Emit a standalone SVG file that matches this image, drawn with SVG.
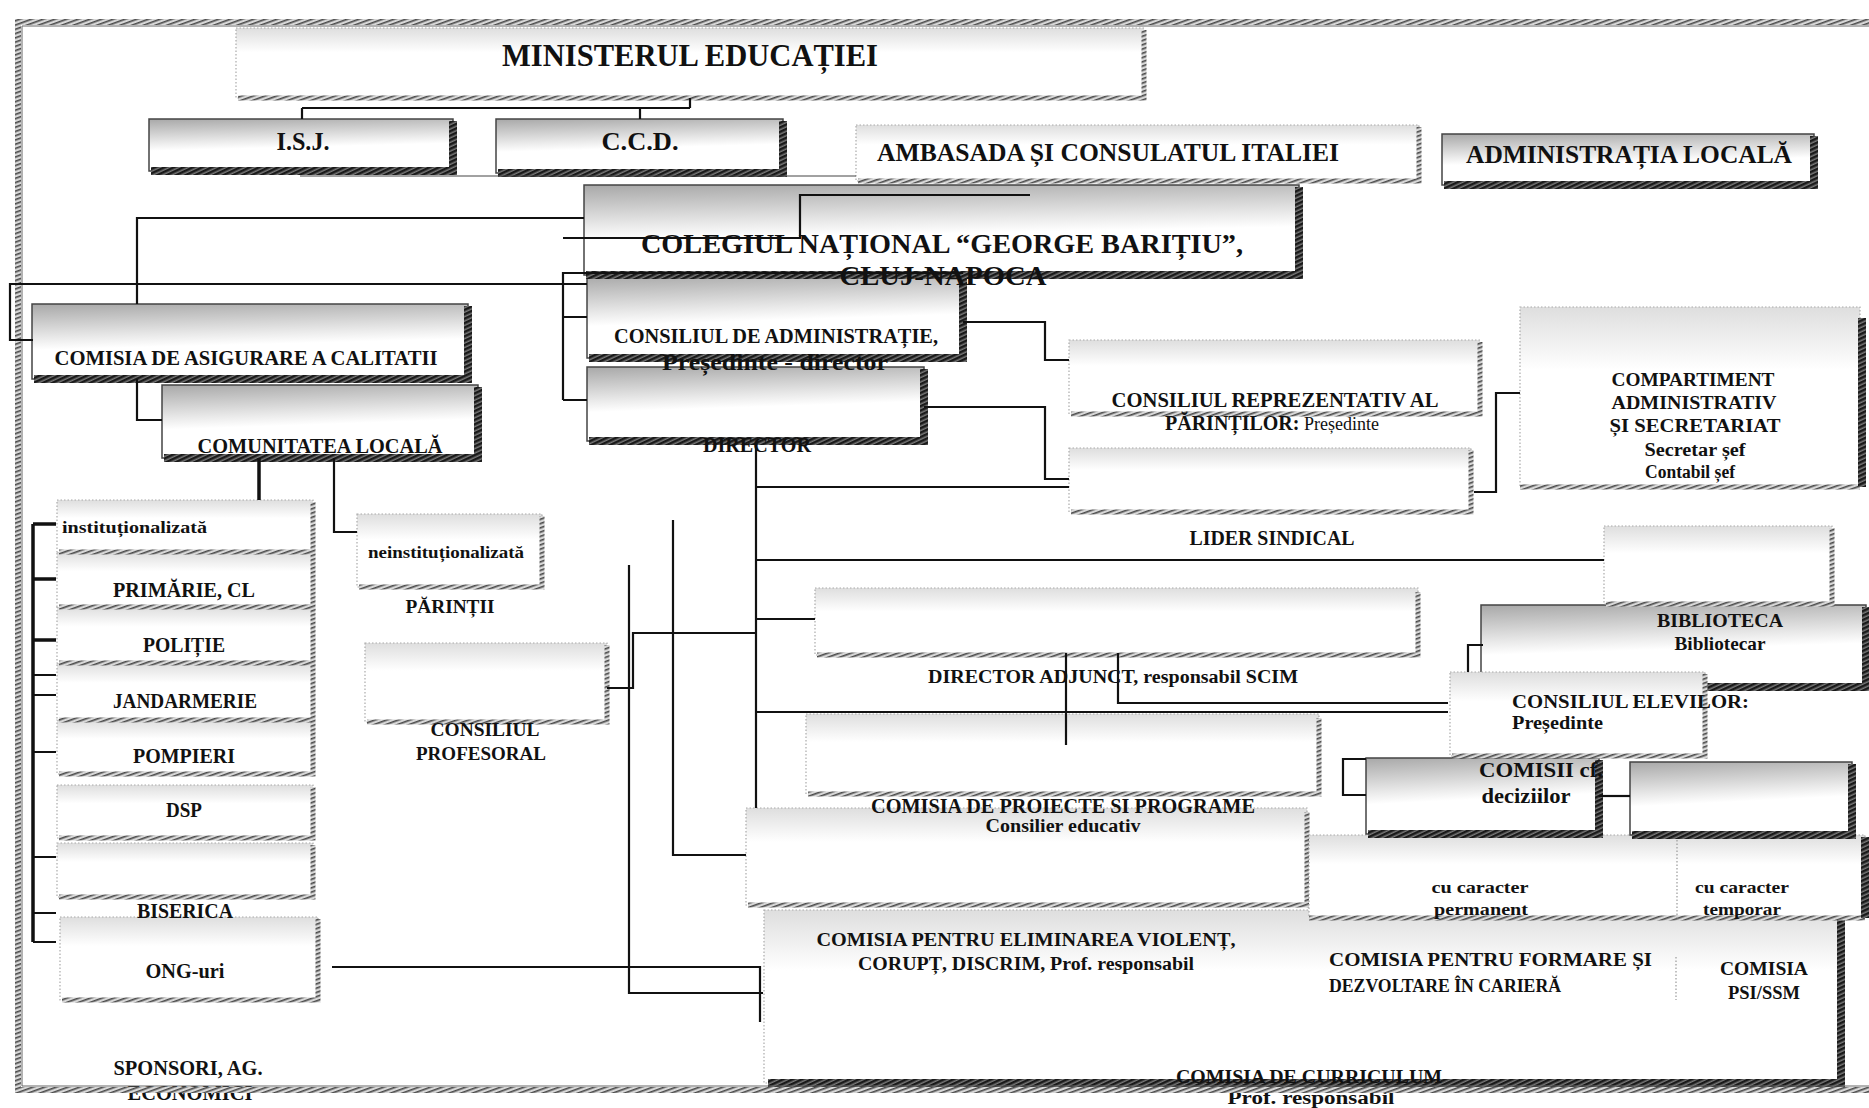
<svg xmlns="http://www.w3.org/2000/svg" width="1869" height="1108" viewBox="0 0 1869 1108">
<defs>
<pattern id="hD" width="4" height="4" patternUnits="userSpaceOnUse" patternTransform="rotate(65)"><rect width="4" height="4" fill="#7a7a7a"/><rect width="2.5" height="4" fill="#1a1a1a"/></pattern>
<pattern id="hL" width="4" height="4" patternUnits="userSpaceOnUse" patternTransform="rotate(70)"><rect width="4" height="4" fill="#d8d8d8"/><rect width="1.6" height="4" fill="#4a4a4a"/></pattern>
<linearGradient id="gD" x1="0" y1="0" x2="0.15" y2="1"><stop offset="0" stop-color="#a8a8a8"/><stop offset="0.45" stop-color="#eaeaea"/><stop offset="0.6" stop-color="#fff"/></linearGradient>
<linearGradient id="gL" x1="0" y1="0" x2="0" y2="1"><stop offset="0" stop-color="#dedede"/><stop offset="0.35" stop-color="#fff"/></linearGradient>
<style>
.dk{fill:url(#gD);stroke:#444;stroke-width:1.5}
.dsh{fill:none;stroke:url(#hD);stroke-width:8}
.lt{fill:url(#gL);stroke:#aaa;stroke-width:1.2;stroke-dasharray:1.5 2}
.lsh{fill:none;stroke:url(#hL);stroke-width:5}
.ln{fill:none;stroke:#111;stroke-width:2.2}
.lnk{fill:none;stroke:#111;stroke-width:3.5}
.thin{fill:none;stroke:#444;stroke-width:1}
.dot{fill:none;stroke:#999;stroke-width:1.2;stroke-dasharray:1.5 2}
.fr{fill:none;stroke:url(#hL);stroke-width:6}
.fr2{fill:none;stroke:#666;stroke-width:1}
text{font-family:"Liberation Serif","Times New Roman",serif;font-weight:bold;fill:#111;text-anchor:middle}
.s{text-anchor:start}
.n{font-weight:normal}
</style>
</defs>
<rect width="1869" height="1108" fill="#fff"/>

<g id="n-curriculum">
<rect class="lt" x="764" y="910" width="1077" height="173"/>
<path class="dsh" d="M1841,914 V1083 H768"/>
<path class="dot" d="M1676,957 V1000"/>
<text x="1309" y="1083" font-size="19" textLength="266" lengthAdjust="spacingAndGlyphs">COMISIA DE  CURRICULUM</text>
<text x="1311" y="1104" font-size="18" textLength="167" lengthAdjust="spacingAndGlyphs">Prof. responsabil</text>
<text x="1764" y="975" font-size="19" textLength="88" lengthAdjust="spacingAndGlyphs">COMISIA</text>
<text x="1764" y="999" font-size="19" textLength="72" lengthAdjust="spacingAndGlyphs">PSI/SSM</text>
</g>

<g id="n-ong">
<rect class="lt" x="60" y="917" width="258" height="83"/>
<path class="lsh" d="M318,919 V1000 H62"/>
<text x="185" y="978" font-size="20" textLength="79" lengthAdjust="spacingAndGlyphs">ONG-uri</text>
</g>
<g id="n-sponsori">
<text x="188" y="1075" font-size="20" textLength="149" lengthAdjust="spacingAndGlyphs">SPONSORI, AG.</text>
<text x="190" y="1100" font-size="20" textLength="125" lengthAdjust="spacingAndGlyphs">ECONOMICI</text>
</g>

<g id="n-violenta">
<rect class="lt" x="746" y="808" width="561" height="97"/>
<path class="lsh" d="M1307,812 V905 H748"/>
<text x="1026" y="946" font-size="19" textLength="419" lengthAdjust="spacingAndGlyphs">COMISIA PENTRU ELIMINAREA VIOLENȚ,</text>
<text x="1026" y="970" font-size="18" textLength="336" lengthAdjust="spacingAndGlyphs">CORUPȚ, DISCRIM, Prof. responsabil</text>
</g>

<g id="n-caracter">
<rect class="lt" x="1309" y="835" width="556" height="83"/>
<path class="lsh" d="M1309,918 H1865"/>
<path class="dsh" d="M1865,837 V918"/>
<path class="dot" d="M1677,840 V920"/>
<text x="1480" y="893" font-size="17" textLength="97" lengthAdjust="spacingAndGlyphs">cu caracter</text>
<text x="1481" y="915" font-size="17" textLength="94" lengthAdjust="spacingAndGlyphs">permanent</text>
<text x="1742" y="893" font-size="17" textLength="94" lengthAdjust="spacingAndGlyphs">cu caracter</text>
<text x="1742" y="915" font-size="17" textLength="78" lengthAdjust="spacingAndGlyphs">temporar</text>
<text class="s" x="1329" y="966" font-size="19" textLength="323" lengthAdjust="spacingAndGlyphs">COMISIA PENTRU FORMARE ȘI</text>
<text class="s" x="1329" y="992" font-size="19" textLength="232" lengthAdjust="spacingAndGlyphs">DEZVOLTARE ÎN CARIERĂ</text>
</g>

<g id="n-comisii2">
<rect class="dk" x="1630" y="762" width="222" height="73"/>
<path class="dsh" d="M1852,764 V835 H1632"/>
</g>
<g id="n-comisii">
<rect class="dk" x="1366" y="758" width="233" height="76"/>
<path class="dsh" d="M1599,760 V834 H1368"/>
<text class="s" x="1479" y="777" font-size="22" textLength="124" lengthAdjust="spacingAndGlyphs">COMISII cf.</text>
<text x="1526" y="803" font-size="20" textLength="89" lengthAdjust="spacingAndGlyphs">deciziilor</text>
</g>

<g id="n-proiecte">
<rect class="lt" x="806" y="714" width="513" height="80"/>
<path class="lsh" d="M1319,718 V794 H808"/>
<text x="1063" y="813" font-size="20" textLength="384" lengthAdjust="spacingAndGlyphs">COMISIA DE PROIECTE SI PROGRAME</text>
<text x="1063" y="832" font-size="18" textLength="155" lengthAdjust="spacingAndGlyphs">Consilier educativ</text>
</g>

<g id="n-profesoral">
<rect class="lt" x="365" y="643" width="242" height="79"/>
<path class="lsh" d="M607,645 V722 H367"/>
<text x="485" y="736" font-size="19" textLength="109" lengthAdjust="spacingAndGlyphs">CONSILIUL</text>
<text x="481" y="760" font-size="19" textLength="130" lengthAdjust="spacingAndGlyphs">PROFESORAL</text>
</g>

<g id="n-biserica">
<rect class="lt" x="57" y="843" width="256" height="54"/>
<path class="lsh" d="M313,845 V897 H59"/>
<text x="185" y="918" font-size="20" textLength="96" lengthAdjust="spacingAndGlyphs">BISERICA</text>
</g>
<g id="n-dsp">
<rect class="lt" x="57" y="785" width="256" height="53"/>
<path class="lsh" d="M313,787 V838 H59"/>
<text x="184" y="817" font-size="20" textLength="36" lengthAdjust="spacingAndGlyphs">DSP</text>
</g>
<g id="n-pompieri">
<rect class="lt" x="57" y="720" width="256" height="54"/>
<path class="lsh" d="M313,722 V774 H59"/>
<text x="184" y="763" font-size="20" textLength="102" lengthAdjust="spacingAndGlyphs">POMPIERI</text>
</g>
<g id="n-jandarmerie">
<rect class="lt" x="57" y="663" width="256" height="57"/>
<path class="lsh" d="M313,665 V720 H59"/>
<text x="185" y="708" font-size="20" textLength="144" lengthAdjust="spacingAndGlyphs">JANDARMERIE</text>
</g>
<g id="n-politie">
<rect class="lt" x="57" y="607" width="256" height="56"/>
<path class="lsh" d="M313,609 V663 H59"/>
<text x="184" y="652" font-size="20" textLength="82" lengthAdjust="spacingAndGlyphs">POLIȚIE</text>
</g>
<g id="n-primarie">
<rect class="lt" x="57" y="552" width="256" height="55"/>
<path class="lsh" d="M313,554 V607 H59"/>
<text x="184" y="597" font-size="20" textLength="142" lengthAdjust="spacingAndGlyphs">PRIMĂRIE, CL</text>
</g>
<g id="n-institutionalizata">
<rect class="lt" x="57" y="500" width="256" height="52"/>
<path class="lsh" d="M313,502 V552 H59"/>
<text class="s" x="62" y="533" font-size="17" textLength="145" lengthAdjust="spacingAndGlyphs">instituționalizată</text>
</g>

<g id="n-adjunct">
<rect class="lt" x="815" y="588" width="603" height="67"/>
<path class="lsh" d="M1418,592 V655 H817"/>
<text x="1113" y="683" font-size="18" textLength="370" lengthAdjust="spacingAndGlyphs">DIRECTOR  ADJUNCT, responsabil  SCIM</text>
</g>

<g id="n-biblioteca">
<rect class="dk" x="1481" y="605" width="385" height="82"/>
<path class="dsh" d="M1866,607 V687 H1483"/>
<text x="1720" y="627" font-size="19" textLength="126" lengthAdjust="spacingAndGlyphs">BIBLIOTECA</text>
<text x="1720" y="650" font-size="18" textLength="91" lengthAdjust="spacingAndGlyphs">Bibliotecar</text>
</g>
<g id="n-elevi">
<rect class="lt" x="1450" y="672" width="255" height="84"/>
<path class="lsh" d="M1705,674 V756 H1452"/>
<text class="s" x="1512" y="708" font-size="19" textLength="237" lengthAdjust="spacingAndGlyphs">CONSILIUL  ELEVILOR:</text>
<text class="s" x="1512" y="729" font-size="19" textLength="91" lengthAdjust="spacingAndGlyphs">Președinte</text>
</g>

<g id="n-empty-right">
<rect class="lt" x="1604" y="526" width="228" height="78"/>
<path class="lsh" d="M1832,528 V604 H1606"/>
</g>

<g id="n-neinstitutionalizata">
<rect class="lt" x="357" y="514" width="185" height="73"/>
<path class="lsh" d="M542,516 V587 H359"/>
<text x="446" y="558" font-size="17" textLength="156" lengthAdjust="spacingAndGlyphs">neinstituționalizată</text>
<text x="450" y="613" font-size="19" textLength="89" lengthAdjust="spacingAndGlyphs">PĂRINȚII</text>
</g>

<g id="n-lider">
<rect class="lt" x="1069" y="448" width="402" height="64"/>
<path class="lsh" d="M1471,450 V512 H1071"/>
<text x="1272" y="545" font-size="20" textLength="165" lengthAdjust="spacingAndGlyphs">LIDER SINDICAL</text>
</g>

<g id="n-comunitatea">
<rect class="dk" x="162" y="385" width="316" height="73"/>
<path class="dsh" d="M478,387 V458 H164"/>
<text x="320" y="453" font-size="21" textLength="245" lengthAdjust="spacingAndGlyphs">COMUNITATEA LOCALĂ</text>
</g>

<g id="n-director">
<rect class="dk" x="587" y="367" width="337" height="74"/>
<path class="dsh" d="M924,369 V441 H589"/>
<text x="757" y="452" font-size="20" textLength="108" lengthAdjust="spacingAndGlyphs">DIRECTOR</text>
</g>

<g id="n-crp">
<rect class="lt" x="1069" y="340" width="411" height="74"/>
<path class="lsh" d="M1480,342 V414 H1071"/>
<text x="1275" y="407" font-size="20" textLength="327" lengthAdjust="spacingAndGlyphs">CONSILIUL REPREZENTATIV AL</text>
<text class="s" x="1165" y="430" font-size="20">PĂRINȚILOR:<tspan class="n" font-size="18"> Președinte</tspan></text>
</g>

<g id="n-compartiment">
<rect class="lt" x="1520" y="307" width="340" height="180"/>
<path class="lsh" d="M1520,487 H1860"/>
<path class="dsh" d="M1862,318 V487" stroke-width="12"/>
<text x="1693" y="386" font-size="19" textLength="163" lengthAdjust="spacingAndGlyphs">COMPARTIMENT</text>
<text x="1694" y="409" font-size="19" textLength="165" lengthAdjust="spacingAndGlyphs">ADMINISTRATIV</text>
<text x="1695" y="432" font-size="19" textLength="171" lengthAdjust="spacingAndGlyphs">ȘI SECRETARIAT</text>
<text x="1695" y="456" font-size="18" textLength="101" lengthAdjust="spacingAndGlyphs">Secretar șef</text>
<text x="1690" y="478" font-size="18" textLength="90" lengthAdjust="spacingAndGlyphs">Contabil șef</text>
</g>

<g id="n-asigurare">
<rect class="dk" x="32" y="304" width="436" height="75"/>
<path class="dsh" d="M468,306 V379 H34"/>
<text x="246" y="365" font-size="22" textLength="383" lengthAdjust="spacingAndGlyphs">COMISIA DE ASIGURARE A CALITATII</text>
</g>

<g id="n-ca">
<rect class="dk" x="587" y="276" width="376" height="82"/>
<path class="dsh" d="M963,278 V358 H589"/>
<text x="776" y="343" font-size="22" textLength="324" lengthAdjust="spacingAndGlyphs">CONSILIUL DE ADMINISTRAȚIE,</text>
<text x="775" y="370" font-size="24" textLength="226" lengthAdjust="spacingAndGlyphs">Președinte -  director</text>
</g>

<g id="n-colegiul">
<rect class="dk" x="584" y="185" width="715" height="90"/>
<path class="dsh" d="M1299,187 V275 H586"/>
<text x="942" y="253" font-size="28" textLength="602" lengthAdjust="spacingAndGlyphs">COLEGIUL NAȚIONAL “GEORGE BARIȚIU”,</text>
<text x="943" y="285" font-size="28" textLength="207" lengthAdjust="spacingAndGlyphs">CLUJ-NAPOCA</text>
</g>

<g id="n-administratia">
<rect class="dk" x="1442" y="134" width="372" height="51"/>
<path class="dsh" d="M1814,136 V185 H1444"/>
<text x="1629" y="163" font-size="26" textLength="326" lengthAdjust="spacingAndGlyphs">ADMINISTRAȚIA LOCALĂ</text>
</g>

<g id="n-ambasada">
<rect class="lt" x="856" y="125" width="563" height="56"/>
<path class="lsh" d="M1419,127 V181 H858"/>
<text x="1108" y="161" font-size="25" textLength="462" lengthAdjust="spacingAndGlyphs">AMBASADA ȘI CONSULATUL ITALIEI</text>
</g>

<g id="n-ccd">
<rect class="dk" x="496" y="119" width="287" height="54"/>
<path class="dsh" d="M783,121 V173 H498"/>
<text x="640" y="150" font-size="25" textLength="77" lengthAdjust="spacingAndGlyphs">C.C.D.</text>
</g>
<g id="n-isj">
<rect class="dk" x="149" y="119" width="304" height="52"/>
<path class="dsh" d="M453,121 V171 H151"/>
<text x="303" y="150" font-size="25" textLength="53" lengthAdjust="spacingAndGlyphs">I.S.J.</text>
</g>

<g id="n-minister">
<rect class="lt" x="236" y="28" width="908" height="70"/>
<path class="lsh" d="M1144,30 V98 H238"/>
<text x="690" y="66" font-size="31" textLength="376" lengthAdjust="spacingAndGlyphs">MINISTERUL EDUCAȚIEI</text>
</g>

<g id="frame">
<path class="fr" d="M1869,22 H18 V1090 H1869"/>
<path class="fr2" d="M1869,26 H22 V1086 H1869"/>
</g>

<g id="connectors">
<path class="ln" d="M690,98 V108 M302,108 H690 M302,108 V119 M640,108 V119"/>
<path class="thin" d="M300,176 H856"/>
<path class="ln" d="M1030,195 H800 V238 H563"/>
<path class="ln" d="M137,304 V218 H584"/>
<path class="ln" d="M33,340 H10 V284 H587"/>
<path class="ln" d="M963,273 H563 V400 M563,317 H587 M563,400 H587"/>
<path class="ln" d="M963,322 H1045 V360 H1069"/>
<path class="ln" d="M924,407 H1045 V479 H1069"/>
<path class="ln" d="M756,443 V808"/>
<path class="ln" d="M756,487 H1069"/>
<path class="ln" d="M756,560 H1604"/>
<path class="ln" d="M756,619 H815"/>
<path class="ln" d="M756,712 H1448"/>
<path class="ln" d="M1118,653 V703 H1448"/>
<path class="ln" d="M1066,653 V745"/>
<path class="ln" d="M673,520 V855 H746"/>
<path class="ln" d="M629,565 V993 H763"/>
<path class="ln" d="M607,688 H633 V633 H756"/>
<path class="ln" d="M332,967 H760 V1022"/>
<path class="ln" d="M137,379 V420 H162"/>
<path class="lnk" d="M259,458 V500"/>
<path class="ln" d="M334,458 V532 H357"/>
<path class="lnk" d="M33,524 V942"/>
<path class="lnk" d="M33,524 H56 M33,579 H56 M33,640 H56"/>
<path class="ln" d="M33,675 H56 M33,695 H56 M33,752 H56 M33,857 H56 M33,913 H56 M33,942 H56"/>
<path class="ln" d="M1474,492 H1496 V393 H1520"/>
<path class="ln" d="M1483,645 H1468 V672"/>
<path class="ln" d="M1366,759 H1343 V795 H1366"/>
<path class="ln" d="M1599,796 H1630"/>
</g>
</svg>
